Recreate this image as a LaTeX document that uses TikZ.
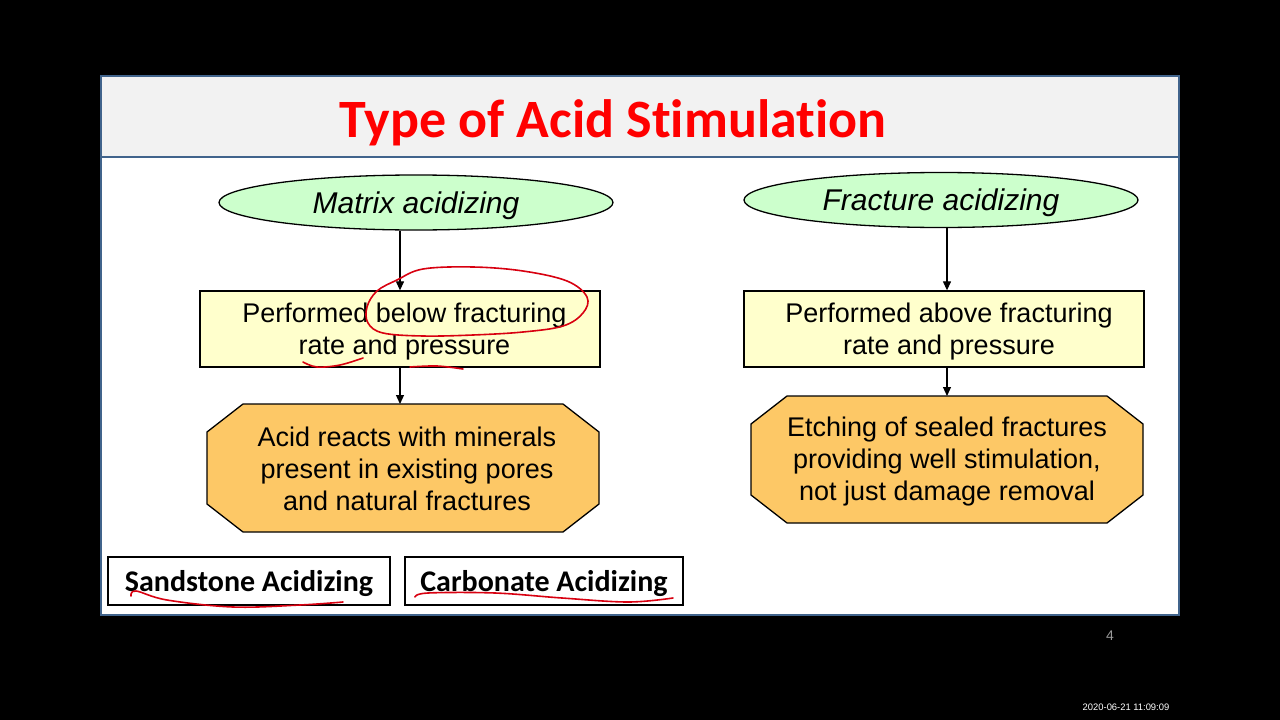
\documentclass[tikz,border=0pt]{standalone}
\usepackage{fontspec}
\setmainfont{Liberation Sans}
\newfontfamily\carlito[Ligatures=NoCommon]{Carlito}
\usetikzlibrary{shapes.geometric,arrows.meta,calc}
\definecolor{titlegray}{HTML}{F2F2F2}
\definecolor{slideblue}{HTML}{41648C}
\definecolor{ellgreen}{HTML}{CCFFCC}
\definecolor{boxyellow}{HTML}{FFFFCC}
\definecolor{octorange}{HTML}{FDC866}
\definecolor{inkred}{HTML}{D80010}
\definecolor{pagegray}{HTML}{9A9A9A}
\begin{document}
\begin{tikzpicture}[x=1pt,y=-1pt,
  ell/.style={ellipse, draw, line width=1.3, fill=ellgreen, minimum width=394, minimum height=55, inner sep=0,
    text depth=0pt, font=\itshape\fontsize{30}{34}\selectfont},
  rectbox/.style={draw, line width=1.3, fill=boxyellow, minimum width=400, minimum height=76, inner sep=0,
    align=center, text depth=0pt, font=\fontsize{27}{32}\selectfont},
  octtext/.style={minimum width=392, minimum height=128, inner sep=0, align=center,
    font=\fontsize{27}{32}\selectfont},
  octfill/.style={fill=octorange, draw, line width=1.3},
  typebox/.style={draw, line width=1.6, fill=white, minimum width=282, minimum height=48, inner sep=0,
    text depth=0pt, font=\carlito\bfseries\fontsize{30}{34}\selectfont},
  arr/.style={line width=1.2, -{Triangle[length=9,width=8]}},
  ink/.style={draw=inkred, line width=1.6, line cap=round, line join=round}
]
\useasboundingbox (0,0) rectangle (1280,720);
\fill[black] (0,0) rectangle (1280,720);
% slide
\fill[white] (100,75) rectangle (1180,616);
\fill[titlegray] (100,75) rectangle (1180,157);
\draw[slideblue, line width=2] (100,157) -- (1180,157);
\draw[slideblue, line width=2] (101,76) rectangle (1179,615);
\node[text=red, font=\carlito\bfseries\fontsize{54}{60}\selectfont, anchor=base] (title) at (613,137) {Type of Acid Stimulation};

% left column
\node[ell] (ell1) at (416,202.5) {Matrix acidizing};
\node[rectbox] (box1) at (400,329) {\hspace*{9pt}Performed below fracturing\\\hspace*{9pt}rate and pressure};
\fill[octfill] (243,404) -- (563,404) -- (599,432) -- (599,504) -- (563,532) -- (243,532) -- (207,504) -- (207,432) -- cycle;
\node[octtext] (oct1) at (407,469) {Acid reacts with minerals\\present in existing pores\\and natural fractures};

% right column
\node[ell] (ell2) at (941,200) {Fracture acidizing};
\node[rectbox] (box2) at (944,329) {\hspace*{10pt}Performed above fracturing\\\hspace*{10pt}rate and pressure};
\fill[octfill] (787,396) -- (1107,396) -- (1143,424) -- (1143,495) -- (1107,523) -- (787,523) -- (751,495) -- (751,424) -- cycle;
\node[octtext, minimum height=127] (oct2) at (947,461.5) {Etching of sealed fractures\\providing well stimulation,\\not just damage removal};

% connectors
\draw[arr] (box1.north |- ell1.south) -- (box1.north);
\draw[arr] (box1.south) -- (box1.south |- 0,404);
\draw[arr] ([xshift=3]box2.north |- ell2.south) -- ([xshift=3]box2.north);
\draw[arr] ([xshift=3]box2.south) -- ([xshift=3]box2.south |- 0,396);

% bottom boxes
\node[typebox] (sand) at (249,581) {Sandstone Acidizing};
\node[typebox, minimum width=278] (carb) at (544,581) {Carbonate Acidizing};

% page number and timestamp
\node[text=pagegray, font=\fontsize{14}{16}\selectfont] (pnum) at (1110,636) {4};
\node[text=white, font=\fontsize{9.4}{11}\selectfont] (stamp) at (1126,707) {2020-06-21 11:09:09};

% hand-drawn annotations
\draw[ink] plot[smooth cycle, tension=0.6] coordinates {(397,280) (423,269) (473,267) (523,271) (567,281) (587,297) (583,313) (563,326) (523,332) (473,335) (423,336) (383,333) (368,323) (367,307) (377,291)};
\draw[ink] plot[smooth, tension=0.6] coordinates {(303,362) (317,367) (340,365) (363,358)};
\draw[ink] plot[smooth, tension=0.6] coordinates {(410,367) (437,366) (463,369)};
\draw[ink] plot[smooth, tension=0.6] coordinates {(131,596) (136,591) (167,600) (233,607) (300,605) (343,602)};
\draw[ink] plot[smooth, tension=0.6] coordinates {(415,597) (428,593) (495,593) (562,598) (628,602) (673,598)};
\end{tikzpicture}
\end{document}
